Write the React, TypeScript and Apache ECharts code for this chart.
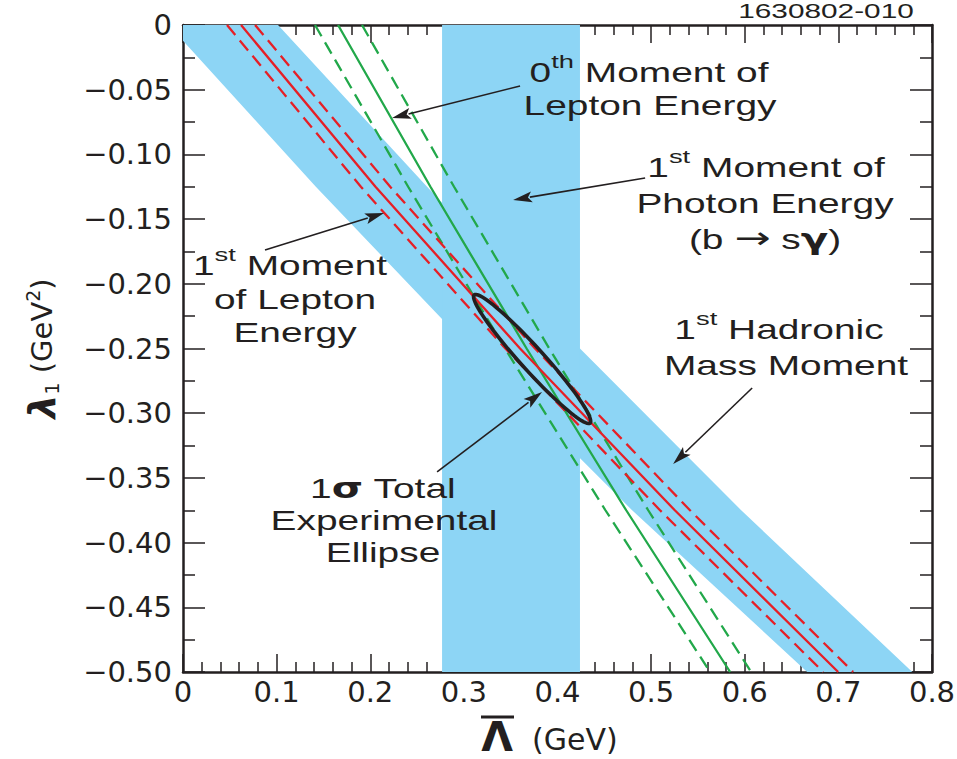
import React, { useEffect, useRef } from 'react';
import * as echarts from 'echarts';

// ---------- data ----------
const X_MIN = 0;
const X_MAX = 0.8;
const Y_MIN = -0.5;
const Y_MAX = 0;

// lambda_1 levels at which the constraint curves were read
const lambdaLevels = [0, -0.125, -0.25, -0.375, -0.5];

// 1st moment of lepton energy (red): central and ±1σ
const redCentral = [0.062, 0.2056, 0.36, 0.5253, 0.6998];
const redLow = [0.047, 0.19, 0.3443, 0.5095, 0.6838];
const redHigh = [0.077, 0.2213, 0.376, 0.5415, 0.7158];

// 0th moment of lepton energy (green): central and ±1σ
const greenCentral = [0.1656, 0.2643, 0.367, 0.4734, 0.5844];
const greenLow = [0.141, 0.2405, 0.344, 0.4512, 0.563];
const greenHigh = [0.1912, 0.2895, 0.3912, 0.4969, 0.6068];

// 1st hadronic mass moment band edges [Lambda, lambda1]
const hadronicUpper: [number, number][] = [
  [0.1015, 0], [0.2607, -0.125], [0.424, -0.25], [0.5962, -0.375], [0.779, -0.5],
];
const hadronicLower: [number, number][] = [
  [-0.0154, 0], [0.1419, -0.125], [0.3067, -0.25], [0.4797, -0.375], [0.6667, -0.5],
];

// 1st moment of photon energy band (b -> s gamma)
const photonBand = [0.2767, 0.424];

// 1 sigma total experimental ellipse
const ellipseCenter = [0.3729, -0.2581];
const ellipseMajorEnd = [0.4348, -0.3076];
const ellipseMinorEnd = [0.382, -0.2521];

// annotation arrows: [tailX, tailY, tipX, tipY]
const arrows = [
  [0.36, -0.0471, 0.2233, -0.0719],
  [0.4936, -0.1182, 0.3526, -0.1352],
  [0.0876, -0.1739, 0.2147, -0.1453],
  [0.6079, -0.2805, 0.5235, -0.3393],
  [0.2714, -0.3454, 0.3835, -0.2836],
];

// ---------- styles ----------
const INK = '#231f20';
const BLUE = '#8dd5f5';
const RED = '#e61f26';
const GREEN = '#22a84a';
const TXT_FONT = 'Liberation Sans';
const TXT_SIZE = 27;
const TXT_SCALE = 1.44;

const supStyle = {
  fontSize: 19,
  fontFamily: TXT_FONT,
  fill: INK,
  color: INK,
  verticalAlign: 'top',
  padding: [0, 0, 15, 0],
};
const normStyle = {
  fontSize: TXT_SIZE,
  fontFamily: TXT_FONT,
  fill: INK,
  color: INK,
  verticalAlign: 'bottom',
};
const greekStyle = {
  fontSize: TXT_SIZE + 1,
  fontFamily: 'DejaVu Sans',
  fontWeight: 'bold',
  fill: INK,
  color: INK,
  verticalAlign: 'bottom',
};
const arrowStyle = {
  fontSize: 30,
  fontFamily: 'DejaVu Sans',
  fill: INK,
  color: INK,
  verticalAlign: 'bottom',
};

function label(x: number, y: number, text: string, rich = false, size = TXT_SIZE, scale = TXT_SCALE) {
  const style: any = {
    text,
    fontSize: size,
    fontFamily: TXT_FONT,
    font: `${size}px "${TXT_FONT}"`,
    fill: INK,
    align: 'center',
    textAlign: 'center',
    verticalAlign: 'middle',
    textVerticalAlign: 'middle',
  };
  if (rich) {
    style.rich = { n: normStyle, s: supStyle, g: greekStyle, a: arrowStyle };
  }
  return { type: 'text', x, y, scaleX: scale, scaleY: 1, z: 50, style };
}

export default function App() {
  const ref = useRef<HTMLDivElement>(null);

  useEffect(() => {
    if (!ref.current) return;
    const chart = echarts.init(ref.current, undefined, { renderer: 'svg' });

    const axisLine = { show: true, onZero: false, lineStyle: { color: INK, width: 2.5 } };
    const tickStyle = { color: INK, width: 1.5 };

    const lineSeries = (xs: number[], color: string, dashed: boolean) => ({
      type: 'line',
      data: xs.map((x, i) => [x, lambdaLevels[i]]),
      showSymbol: false,
      symbol: 'none',
      silent: true,
      clip: true,
      z: 3,
      lineStyle: { color, width: 2.3, type: dashed ? [13, 7] : 'solid' },
    });

    const option: any = {
      animation: false,
      backgroundColor: '#ffffff',
      grid: {
        left: 183,
        top: 25,
        right: 25,
        bottom: 87,
        containLabel: false,
        outerBoundsMode: 'none',
      },
      xAxis: [
        {
          type: 'value',
          min: X_MIN,
          max: X_MAX,
          interval: 0.1,
          position: 'bottom',
          axisLine,
          axisTick: { show: true, inside: true, length: 18, lineStyle: tickStyle },
          minorTick: { show: true, splitNumber: 5, length: 10, lineStyle: tickStyle },
          splitLine: { show: false },
          minorSplitLine: { show: false },
          axisLabel: {
            fontFamily: 'DejaVu Sans',
            fontSize: 29,
            color: INK,
            margin: 5,
            formatter: (v: number) => (Math.abs(v) < 1e-9 ? '0' : v.toFixed(1)),
          },
          name: '{L|Λ}{t|  (GeV)}',
          nameLocation: 'middle',
          nameGap: 44,
          nameTextStyle: {
            padding: [0, 16, 0, 0],
            rich: {
              L: { fontFamily: 'DejaVu Sans', fontWeight: 'bold', fontSize: 41, color: INK, verticalAlign: 'bottom' },
              t: { fontFamily: 'DejaVu Sans', fontSize: 30, color: INK, verticalAlign: 'bottom', padding: [0, 0, 3, 0] },
            },
          },
        },
        {
          type: 'value',
          min: X_MIN,
          max: X_MAX,
          interval: 0.1,
          position: 'top',
          axisLine,
          axisTick: { show: true, inside: true, length: 18, lineStyle: tickStyle },
          minorTick: { show: true, splitNumber: 5, length: 10, lineStyle: tickStyle },
          splitLine: { show: false },
          axisLabel: { show: false },
        },
      ],
      yAxis: [
        {
          type: 'value',
          min: Y_MIN,
          max: Y_MAX,
          interval: 0.05,
          position: 'left',
          axisLine,
          axisTick: { show: true, inside: true, length: 22, lineStyle: tickStyle },
          minorTick: { show: true, splitNumber: 2, length: 12, lineStyle: tickStyle },
          splitLine: { show: false },
          minorSplitLine: { show: false },
          axisLabel: {
            fontFamily: 'DejaVu Sans',
            fontSize: 29,
            color: INK,
            margin: 11,
            formatter: (v: number) => (Math.abs(v) < 1e-9 ? '0' : '\u2212' + Math.abs(v).toFixed(2)),
          },
          name: '{l|λ}{sub|1}{t| (GeV}{sup|2}{t|)}',
          nameLocation: 'middle',
          nameRotate: 90,
          nameGap: 122,
          nameTextStyle: {
            rich: {
              l: { fontFamily: 'DejaVu Sans', fontWeight: 'bold', fontStyle: 'italic', fontSize: 38, color: INK },
              sub: {
                fontFamily: 'DejaVu Sans',
                fontSize: 19,
                color: INK,
                verticalAlign: 'bottom',
                padding: [14, 0, 0, 0],
              },
              t: { fontFamily: 'DejaVu Sans', fontSize: 29, color: INK },
              sup: { fontFamily: 'DejaVu Sans', fontSize: 19, color: INK, verticalAlign: 'top' },
            },
          },
        },
        {
          type: 'value',
          min: Y_MIN,
          max: Y_MAX,
          interval: 0.05,
          position: 'right',
          axisLine,
          axisTick: { show: true, inside: true, length: 22, lineStyle: tickStyle },
          minorTick: { show: true, splitNumber: 2, length: 12, lineStyle: tickStyle },
          splitLine: { show: false },
          axisLabel: { show: false },
        },
      ],
      series: [
        {
          type: 'custom',
          name: 'bands',
          xAxisIndex: 0,
          yAxisIndex: 0,
          clip: true,
          silent: true,
          z: 1,
          data: [[0, 0]],
          renderItem: (_p: any, api: any) => {
            const poly = [...hadronicUpper, ...hadronicLower.slice().reverse()].map((p) => api.coord(p));
            const v = [
              [photonBand[0], Y_MAX],
              [photonBand[1], Y_MAX],
              [photonBand[1], Y_MIN],
              [photonBand[0], Y_MIN],
            ].map((p) => api.coord(p));
            return {
              type: 'group',
              children: [
                { type: 'polygon', shape: { points: poly }, style: { fill: BLUE } },
                { type: 'polygon', shape: { points: v }, style: { fill: BLUE } },
              ],
            };
          },
        },
        lineSeries(greenLow, GREEN, true),
        lineSeries(greenCentral, GREEN, false),
        lineSeries(greenHigh, GREEN, true),
        lineSeries(redLow, RED, true),
        lineSeries(redCentral, RED, false),
        lineSeries(redHigh, RED, true),
        {
          type: 'custom',
          name: 'ellipse',
          xAxisIndex: 0,
          yAxisIndex: 0,
          clip: true,
          silent: true,
          z: 5,
          data: [ellipseCenter],
          renderItem: (_p: any, api: any) => {
            const c = api.coord(ellipseCenter);
            const m = api.coord(ellipseMajorEnd);
            const n = api.coord(ellipseMinorEnd);
            const a = [m[0] - c[0], m[1] - c[1]];
            const b = [n[0] - c[0], n[1] - c[1]];
            const pts: number[][] = [];
            const N = 90;
            for (let i = 0; i < N; i++) {
              const t = (i / N) * Math.PI * 2;
              pts.push([
                c[0] + a[0] * Math.cos(t) + b[0] * Math.sin(t),
                c[1] + a[1] * Math.cos(t) + b[1] * Math.sin(t),
              ]);
            }
            return {
              type: 'polygon',
              shape: { points: pts },
              style: { fill: 'none', stroke: INK, lineWidth: 3.6 },
            };
          },
        },
        {
          type: 'custom',
          name: 'arrows',
          xAxisIndex: 0,
          yAxisIndex: 0,
          clip: false,
          silent: true,
          z: 6,
          data: arrows,
          renderItem: (_p: any, api: any) => {
            const p1 = api.coord([api.value(0), api.value(1)]);
            const p2 = api.coord([api.value(2), api.value(3)]);
            const dx = p2[0] - p1[0];
            const dy = p2[1] - p1[1];
            const len = Math.sqrt(dx * dx + dy * dy) || 1;
            const ux = dx / len;
            const uy = dy / len;
            const head = 19;
            const hw = 5.5;
            const bx = p2[0] - ux * head;
            const by = p2[1] - uy * head;
            return {
              type: 'group',
              children: [
                {
                  type: 'line',
                  shape: { x1: p1[0], y1: p1[1], x2: bx + ux * 2, y2: by + uy * 2 },
                  style: { stroke: INK, lineWidth: 1.6 },
                },
                {
                  type: 'polygon',
                  shape: {
                    points: [
                      [p2[0], p2[1]],
                      [bx - uy * hw, by + ux * hw],
                      [bx + ux * 4, by + uy * 4],
                      [bx + uy * hw, by - ux * hw],
                    ],
                  },
                  style: { fill: INK },
                },
              ],
            };
          },
        },
      ],
      graphic: [
        label(826, 11, '1630802-010', false, 21, 1.42),
        label(649, 69, '{n|0}{s|th}{n| Moment of}', true),
        label(650, 106, 'Lepton Energy'),
        label(766, 164, '{n|1}{s|st}{n| Moment of}', true),
        label(765, 204, 'Photon Energy'),
        label(765, 238, '{n|(b }{a|\u2192}{n| s}{g|γ}{n|)}', true),
        label(290, 262, '{n|1}{s|st}{n| Moment}', true),
        label(295, 300, 'of Lepton'),
        label(295, 333, 'Energy'),
        label(779, 326, '{n|1}{s|st}{n| Hadronic}', true),
        label(786, 366, 'Mass Moment'),
        label(383, 488, '{n|1}{g|σ}{n| Total}', true),
        label(384, 521, 'Experimental'),
        label(383, 553, 'Ellipse'),
        // overbar of the Λ in the x-axis title
        {
          type: 'line',
          z: 50,
          shape: { x1: 481, y1: 717, x2: 514, y2: 717 },
          style: { stroke: INK, lineWidth: 3 },
        },
      ],
    };

    chart.setOption(option);
    return () => chart.dispose();
  }, []);

  return (
    <div
      ref={ref}
      style={{ position: 'fixed', left: 0, top: 0, width: 957, height: 759, background: '#fff' }}
    />
  );
}
